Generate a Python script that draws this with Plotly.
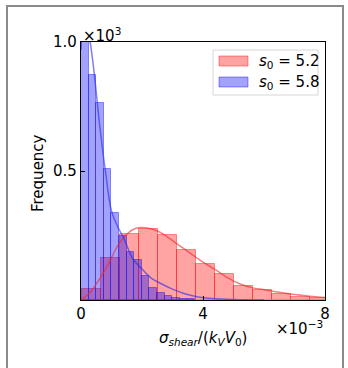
import plotly.graph_objects as go

# ---- data (x in units of 1e-3, y in units of 1e3) ----
red_bin_start = 0.02
red_bin_width = 0.624
red_counts = [0.041, 0.164, 0.255, 0.277, 0.252, 0.194, 0.140, 0.099, 0.056, 0.038, 0.022, 0.013, 0.007]

blue_bin_start = 0.0
blue_bin_width = 0.249
blue_counts = [1.15, 0.872, 0.762, 0.507, 0.337, 0.25, 0.185, 0.155, 0.093, 0.047, 0.027,
               0.015, 0.008, 0.004, 0.002]

red_kde_x = [0, 0.3, 0.6, 0.9, 1.2, 1.5, 1.8, 2.1, 2.4, 2.7, 3.0, 3.3, 3.6, 4.0, 4.4, 4.8,
             5.2, 5.6, 6.0, 6.5, 7.0, 7.5, 8.0]
red_kde_y = [0.0, 0.03, 0.08, 0.14, 0.21, 0.255, 0.278, 0.28, 0.272, 0.255, 0.23, 0.205,
             0.18, 0.147, 0.118, 0.087, 0.063, 0.048, 0.04, 0.03, 0.021, 0.015, 0.01]

blue_kde_x = [0, 0.1, 0.2, 0.3, 0.45, 0.6, 0.8, 1.0, 1.2, 1.4, 1.7, 2.0, 2.3, 2.6, 3.0,
              3.4, 3.8, 4.3, 5.0, 6.0]
blue_kde_y = [0.97, 1.05, 1.05, 1.0, 0.86, 0.69, 0.5, 0.345, 0.285, 0.24, 0.16, 0.12,
              0.085, 0.065, 0.042, 0.024, 0.013, 0.006, 0.002, 0.0]

x_ticks = [0, 4, 8]
y_ticks = [0.5, 1.0]
y_ticklabels = ["0.5", "1.0"]
labels = ["<i>s</i><sub>0</sub> = 5.2", "<i>s</i><sub>0</sub> = 5.8"]

W, H = 348, 368
L, R, T, B = 81, 23, 42, 68
pw, ph = W - L - R, H - T - B

def px_x(p):
    return (p - L) / pw

def px_y(p):
    return (H - B - p) / ph

red_fill = "rgba(255,0,0,0.36)"
blue_fill = "rgba(0,0,255,0.36)"
red_edge = "rgba(255,0,0,0.4)"
blue_edge = "rgba(0,0,255,0.4)"

fig = go.Figure()
red_x = [red_bin_start + i * red_bin_width for i in range(len(red_counts))]
blue_x = [blue_bin_start + i * blue_bin_width for i in range(len(blue_counts))]

fig.add_trace(go.Bar(x=red_x, y=red_counts, width=red_bin_width, offset=0,
                     marker=dict(color=red_fill, line=dict(color=red_edge, width=1)),
                     name=labels[0], showlegend=False))
fig.add_trace(go.Scatter(x=red_kde_x, y=red_kde_y, mode="lines",
                         line=dict(color="rgba(240,40,40,0.6)", width=1.5, shape="spline"),
                         showlegend=False))
fig.add_trace(go.Bar(x=blue_x, y=blue_counts, width=blue_bin_width, offset=0,
                     marker=dict(color=blue_fill, line=dict(color=blue_edge, width=1)),
                     name=labels[1], showlegend=False))
fig.add_trace(go.Scatter(x=blue_kde_x, y=blue_kde_y, mode="lines",
                         line=dict(color="rgba(40,40,240,0.6)", width=1.5, shape="spline"),
                         showlegend=False))

font = dict(family="DejaVu Sans", size=15, color="black")

fig.update_layout(
    width=W, height=H, margin=dict(l=L, r=R, t=T, b=B, autoexpand=False),
    paper_bgcolor="white", plot_bgcolor="white",
    barmode="overlay", bargap=0,
    font=font, showlegend=False,
    xaxis=dict(range=[0, 8], tickvals=x_ticks, ticktext=[str(v) for v in x_ticks],
               ticks="inside", ticklen=4, tickcolor="black", tickwidth=1.2,
               showline=True, linecolor="black", linewidth=1.4, mirror=True,
               showgrid=False, zeroline=False, tickfont=font),
    yaxis=dict(range=[0, 1.0], tickvals=y_ticks, ticktext=y_ticklabels,
               ticks="inside", ticklen=4, tickcolor="black", tickwidth=1.2,
               showline=True, linecolor="black", linewidth=1.4, mirror=True,
               showgrid=False, zeroline=False, tickfont=font),
)

fig.add_annotation(x=0, y=1, xref="paper", yref="paper", xanchor="left", yanchor="bottom",
                   text="×10<sup>3</sup>", showarrow=False, font=font, yshift=-5)
fig.add_annotation(x=1, y=px_y(328), xref="paper", yref="paper", xanchor="right", yanchor="middle",
                   text="×10<sup>−3</sup>", showarrow=False, font=font)
fig.add_annotation(x=px_x(203), y=px_y(338), xref="paper", yref="paper", xanchor="center", yanchor="middle",
                   text="<i>σ</i><sub><i>shear</i></sub>/(<i>k</i><sub><i>V</i></sub><i>V</i><sub>0</sub>)",
                   showarrow=False, font=font)
fig.add_annotation(x=px_x(38), y=px_y(173), xref="paper", yref="paper", xanchor="center", yanchor="middle",
                   text="Frequency", textangle=-90, showarrow=False, font=font)

# legend (matplotlib-style: wide patches)
fig.add_shape(type="rect", xref="paper", yref="paper",
              x0=px_x(213), x1=px_x(318), y0=px_y(95), y1=px_y(50),
              line=dict(color="#d6d6d6", width=1), fillcolor="rgba(255,255,255,0.85)", layer="above")
legend_rows = [(labels[0], red_fill, red_edge, 61), (labels[1], blue_fill, blue_edge, 82)]
for text, fill, edge, yc in legend_rows:
    fig.add_shape(type="rect", xref="paper", yref="paper",
                  x0=px_x(219), x1=px_x(248), y0=px_y(yc + 5), y1=px_y(yc - 5),
                  line=dict(color=edge, width=1), fillcolor=fill, layer="above")
    fig.add_annotation(x=px_x(257), y=px_y(yc), xref="paper", yref="paper",
                       xanchor="left", yanchor="middle", text=text, showarrow=False, font=font)

# outer gray frame
fig.add_shape(type="rect", xref="paper", yref="paper",
              x0=px_x(7), x1=px_x(343), y0=px_y(380), y1=px_y(6),
              line=dict(color="#8a8a8a", width=2), fillcolor="rgba(0,0,0,0)", layer="above")

fig.write_html("out.html")
